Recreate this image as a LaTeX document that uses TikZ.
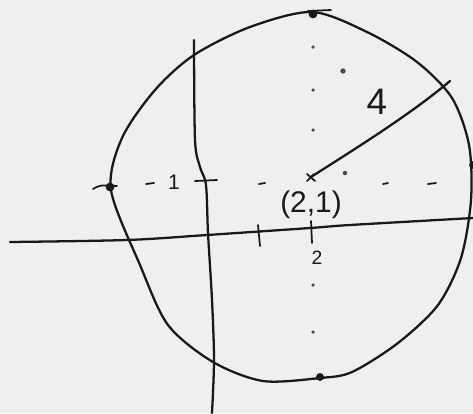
\documentclass[tikz,border=0pt]{standalone}
\usepackage{fontspec}
\setmainfont{Liberation Sans}
\definecolor{paper}{RGB}{239,239,239}
\definecolor{ink}{RGB}{25,25,25}
\tikzset{
  pen/.style={draw=ink, line width=1.3pt, line cap=round, line join=round},
  thin pen/.style={draw=ink, line width=1pt, line cap=round},
  blob/.style={fill=ink, circle, inner sep=0pt, minimum size=5pt},
  speck/.style={fill=ink!80, circle, inner sep=0pt, minimum size=2pt},
  hand/.style={text=ink, inner sep=0pt}
}
\begin{document}
\begin{tikzpicture}[x=0.02cm, y=-0.02cm]
\fill[paper] (0,0) rectangle (473,413);
\useasboundingbox (0,0) rectangle (473,413);
\clip (0,0) rectangle (473,413);

% circle (hand drawn)
\draw[pen] plot[smooth cycle, tension=0.5] coordinates {
 (312,12) (367,32) (417,62) (452,98) (469,145) (471,200)
 (461,258) (438,305) (398,343) (352,372) (320,378) (263,381) (213,362)
 (168,325) (140,265) (111,190) (122,138) (155,90) (194,55) (250,27)};

% x-axis
\coordinate (xa) at (10,242);
\coordinate (xb) at (473,218);
\draw[pen] plot[smooth] coordinates {(xa) (127,240) (207,235) (310,228) (350,225) (xb)};
% y-axis
\coordinate (ya) at (194,40);
\coordinate (yb) at (212,413);
\draw[pen] plot[smooth] coordinates {(ya) (195,140) (200,167) (206,185) (208,233) (212,300) (214,360) (yb)};

% ticks on x-axis
\coordinate (t1a) at (258,225); \coordinate (t1b) at (260,246);
\coordinate (t2a) at (311,221); \coordinate (t2b) at (312,243);
\draw[thin pen] (t1a) -- (t1b);
\draw[thin pen] (t2a) -- (t2b);
% tick on y-axis
\coordinate (ty1) at (195,181); \coordinate (ty2) at (217,180);
\draw[thin pen] (ty1) -- (ty2);

% marked points on circle
\coordinate (tm1) at (308,11); \coordinate (tm2) at (331,10);
\draw[thin pen] (tm1) -- (tm2);
\node[blob] (top) at (313,14) {};
\node[blob, minimum size=4.5pt] (bot) at (320,377) {};
\node[blob] (lft) at (110,187) {};
\coordinate (lm1) at (93,189); \coordinate (lm2) at (117,186);
\draw[thin pen] (lm1) .. controls (100,185) .. (lm2);
\node[blob, minimum size=4.5pt] (rgt) at (473,165) {};

% dashes along y = 1
\foreach \a/\b in {146/154, 259/265, 383/388, 428/436}{
  \draw[thin pen] (\a,184) -- (\b,183);
}
\node[speck, minimum size=2.5pt] (d1) at (345,173) {};

% dots along x = 2
\foreach \y/\n in {47/a,90/b,130/c,285/d,332/e}{
  \node[speck] (v\n) at (313,\y) {};
}
\node[speck, minimum size=3pt] (vx) at (343,71) {};

% centre and radius
\coordinate (c) at (311,177);
\draw[thin pen] (307,174) -- (315,181);
\draw[thin pen] (307,181) -- (314,174);
\coordinate (rend) at (450,81);
\draw[pen] (c) .. controls (350,152) and (410,115) .. (rend);

% labels
\node[hand, font=\fontsize{12}{12}\selectfont] (m1) at (174,182) {1};
\node[hand, font=\fontsize{17}{17}\selectfont] (cl) at (311,205) {(2,1)};
\node[hand, font=\fontsize{11}{11}\selectfont] (two) at (317,258) {2};
\node[hand, font=\fontsize{21}{21}\selectfont] (four) at (377,102) {4};
\end{tikzpicture}
\end{document}
